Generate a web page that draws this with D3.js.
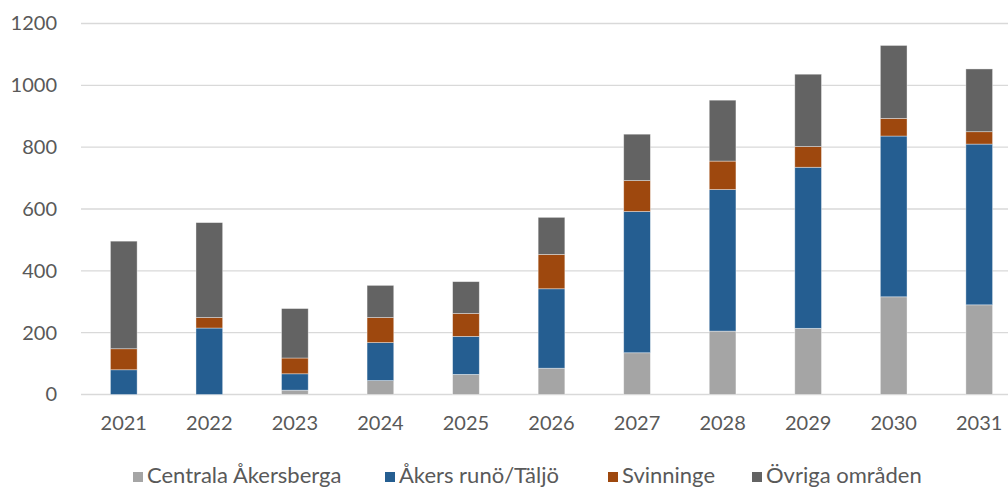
<!DOCTYPE html>
<html>
<head>
<meta charset="utf-8">
<script src="https://cdn.jsdelivr.net/npm/d3@7"></script>
<style>
  body { margin: 0; background: #fff; }
  text { font-family: Lato, "Open Sans", sans-serif; fill: #595959; }
</style>
</head>
<body>
<div id="chart-area"></div>
<script>

let width = 1008,
    height = 488;

// data
let years = ["2021", "2022", "2023", "2024", "2025", "2026", "2027", "2028", "2029", "2030", "2031"];
let centrala = [0, 0, 14, 45, 65, 85, 135, 205, 214, 316, 290];
let akers = [80, 215, 53, 123, 123, 257, 457, 458, 521, 520, 520];
let svinninge = [68, 34, 51, 81, 74, 111, 100, 92, 67, 57, 40];
let ovriga = [348, 307, 160, 104, 103, 120, 150, 197, 234, 236, 203];
let seriesNames = ["Centrala Åkersberga", "Åkers runö/Täljö", "Svinninge", "Övriga områden"];
let colors = ["#A5A5A5", "#255E91", "#9E480E", "#636363"];
let yTicks = [0, 200, 400, 600, 800, 1000, 1200];

let svg = d3.select("#chart-area").append("svg")
    .attr("width", width)
    .attr("height", height);

let x = d3.scaleBand()
    .domain(years)
    .range([81, 1022])
    .paddingInner(0.688)
    .paddingOuter(0.344);

let y = d3.scaleLinear()
    .domain([0, 1200])
    .range([394.5, 23.5]);

// gridlines
svg.append("g")
  .selectAll("line")
  .data(yTicks)
  .enter().append("line")
    .attr("x1", 81)
    .attr("x2", width)
    .attr("y1", d => y(d))
    .attr("y2", d => y(d))
    .attr("stroke", "#D9D9D9")
    .attr("stroke-width", 1.3);

// y axis labels
let yAxis = d3.axisLeft(y).tickValues(yTicks).tickFormat(d3.format("d")).tickSize(0).tickPadding(0);
let gy = svg.append("g")
    .attr("transform", "translate(57,0)")
    .call(yAxis);
gy.select(".domain").remove();
gy.selectAll("text")
    .attr("font-size", 20)
    .attr("font-family", null)
    .attr("fill", null);

// x axis labels
let xAxis = d3.axisBottom(x).tickSize(0).tickPadding(0);
let gx = svg.append("g")
    .attr("transform", "translate(0,416)")
    .call(xAxis);
gx.select(".domain").remove();
gx.selectAll("text")
    .attr("font-size", 20)
    .attr("font-family", null)
    .attr("fill", null);

// stack
let table = years.map((yr, i) => ({
  year: yr,
  c: centrala[i],
  a: akers[i],
  s: svinninge[i],
  o: ovriga[i]
}));
let keys = ["c", "a", "s", "o"];
let stacked = d3.stack().keys(keys)(table);

svg.append("g")
  .selectAll("g")
  .data(stacked)
  .enter().append("g")
    .attr("fill", (d, i) => colors[i])
  .selectAll("rect")
  .data(d => d)
  .enter().append("rect")
    .attr("x", d => x(d.data.year))
    .attr("width", x.bandwidth())
    .attr("y", d => y(d[1]))
    .attr("height", d => y(d[0]) - y(d[1]))
    .attr("stroke", "#fff")
    .attr("stroke-opacity", 0.5)
    .attr("stroke-width", 0.75);

// legend
let legendX = [133, 385, 608, 752];
let legend = svg.append("g")
  .selectAll("g")
  .data(seriesNames)
  .enter().append("g")
    .attr("transform", (d, i) => "translate(" + legendX[i] + ",477)");

legend.append("rect")
    .attr("x", 0)
    .attr("y", -5)
    .attr("width", 10)
    .attr("height", 10)
    .attr("fill", (d, i) => colors[i]);

legend.append("text")
    .attr("x", 14)
    .attr("y", 6)
    .attr("font-size", 22)
    .text(d => d);

</script>
</body>
</html>
